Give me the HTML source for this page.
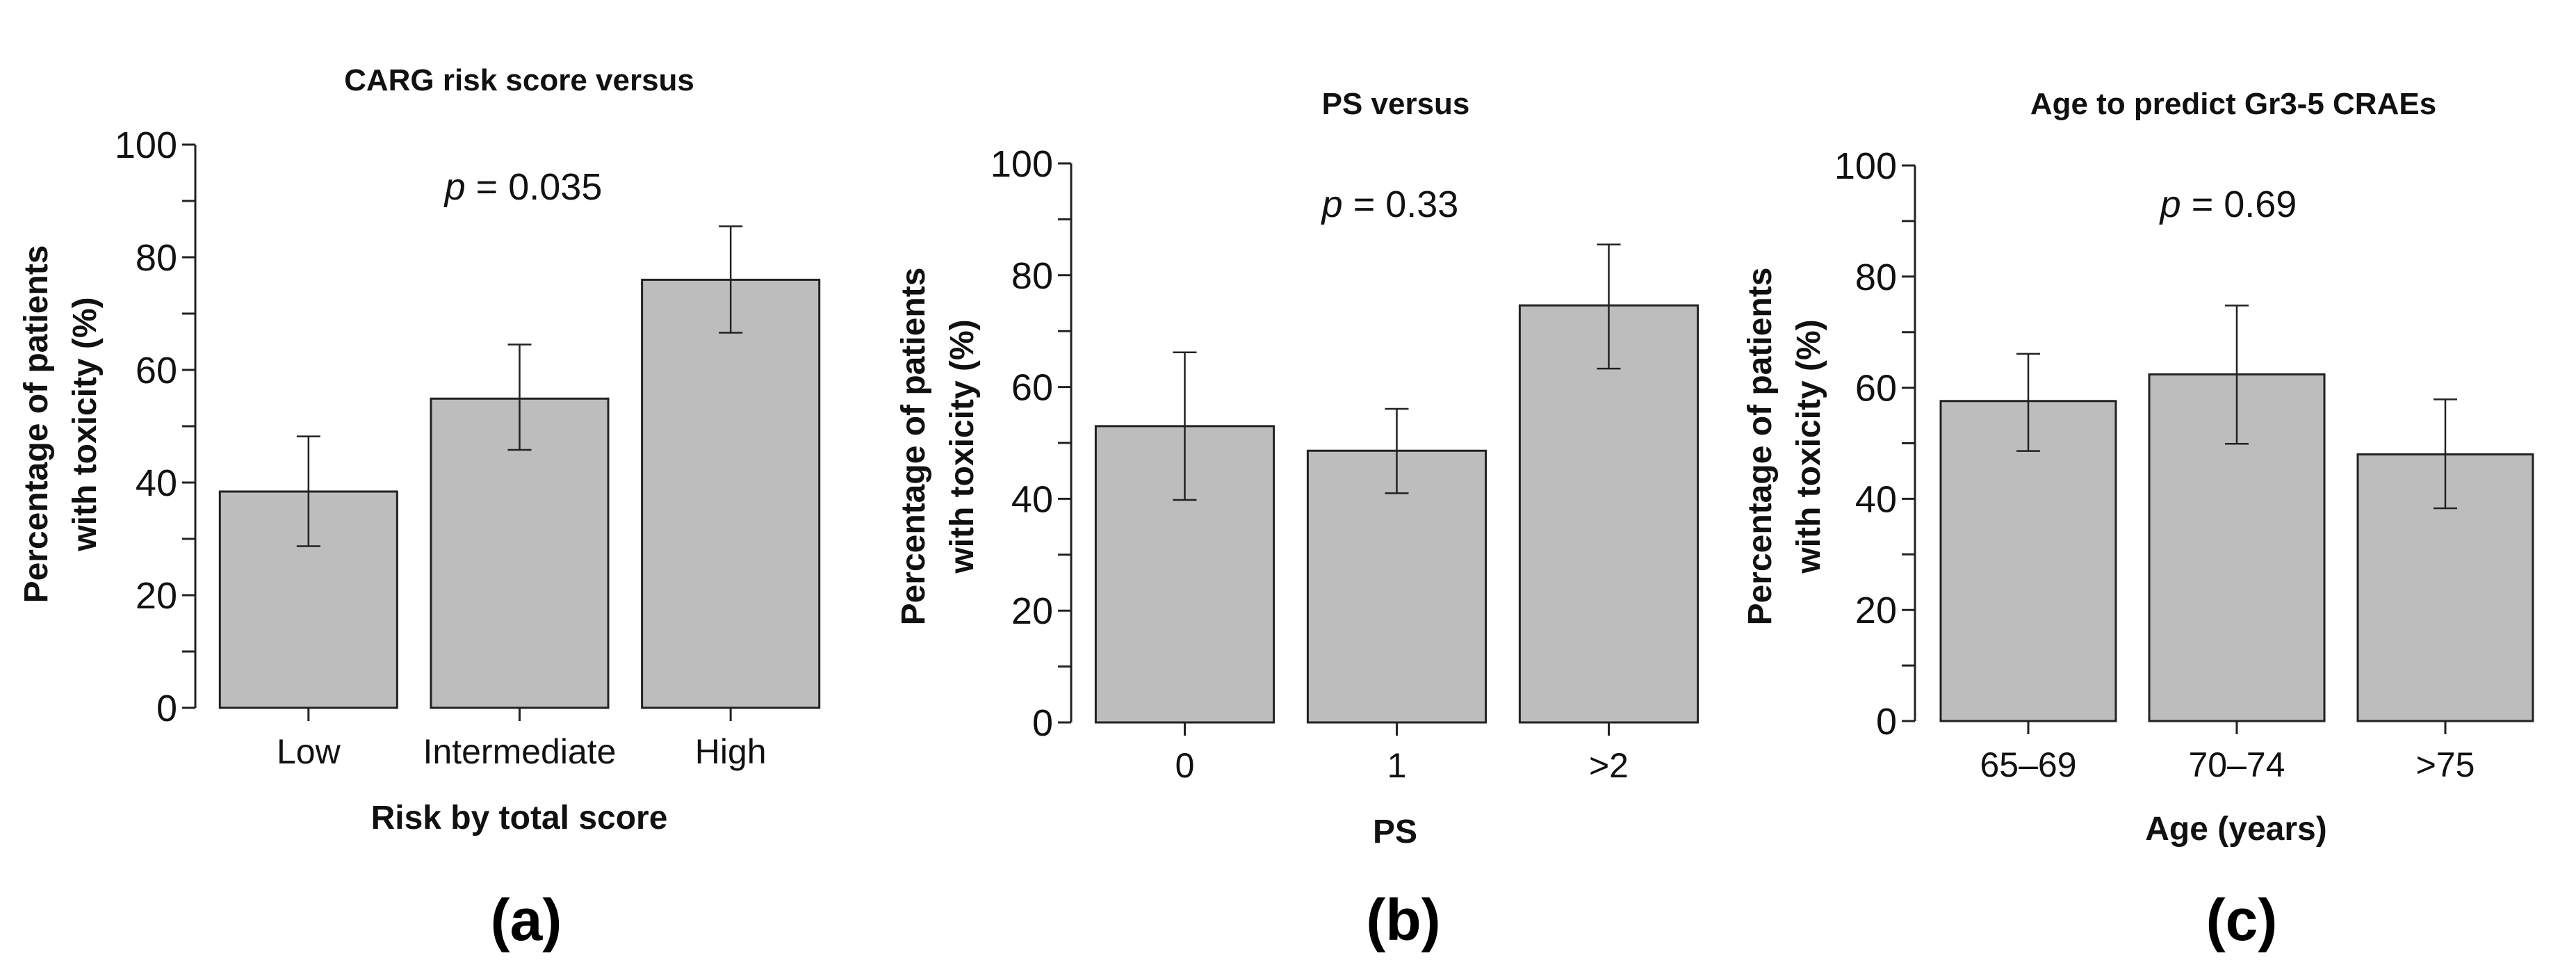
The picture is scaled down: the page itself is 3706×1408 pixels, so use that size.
<!DOCTYPE html>
<html><head><meta charset="utf-8"><style>
html,body{margin:0;padding:0;background:#fff;}
svg{display:block;font-family:"Liberation Sans",Arial,sans-serif;}
</style></head><body>
<svg id="fig" width="3706" height="1408" viewBox="0 0 3706 1408" xmlns="http://www.w3.org/2000/svg"></svg>
<script>
// Panel (a)
const catsA = ["Low", "Intermediate", "High"];
const valsA = [38.4, 54.9, 76.0];
const hiA = [48.2, 64.5, 85.5];
const loA = [28.7, 45.8, 66.6];
// Panel (b)
const catsB = ["0", "1", ">2"];
const valsB = [53.0, 48.6, 74.6];
const hiB = [66.2, 56.1, 85.5];
const loB = [39.8, 41.0, 63.3];
// Panel (c)
const catsC = ["65\u201369", "70\u201374", ">75"];
const valsC = [57.6, 62.4, 48.0];
const hiC = [66.1, 74.8, 57.9];
const loC = [48.6, 49.9, 38.3];
const yTicks = [0, 20, 40, 60, 80, 100];
const yMinorTicks = [10, 30, 50, 70, 90];

const NS = "http://www.w3.org/2000/svg";
const svg = document.getElementById("fig");
function mk(tag, attrs, parent, text) {
  const e = document.createElementNS(NS, tag);
  for (const k in attrs) e.setAttribute(k, attrs[k]);
  if (text !== undefined) e.textContent = text;
  (parent || svg).appendChild(e);
  return e;
}

function panel(cfg) {
  const g = mk("g", {});
  
  
  const y = v => cfg.y0 - (v / 100) * (cfg.y0 - cfg.y100);
  const t = mk("text", {x: cfg.titleX, y: cfg.titleY, "text-anchor": "middle", "font-size": 44, "font-weight": "bold", fill: "#111"}, g, cfg.title);
  
  
  const p = mk("text", {x: cfg.pX, y: cfg.pY, "text-anchor": "middle", "font-size": 54, fill: "#111"}, g);
  
  
  mk("tspan", {"font-style": "italic"}, p, "p");
  mk("tspan", {}, p, " = " + cfg.p);
  const ax = mk("line", {x1: cfg.ax, x2: cfg.ax, y1: y(100), y2: y(0), stroke: "#222", "stroke-width": 3}, g);
  
  
  yTicks.forEach(v => {
    const tk = mk("line", {x1: cfg.ax - 19, x2: cfg.ax, y1: y(v), y2: y(v), stroke: "#222", "stroke-width": 3}, g);
    
    
    const tl = mk("text", {x: cfg.ax - 26, y: y(v) + 19, "text-anchor": "end", "font-size": 54, fill: "#111"}, g, String(v));
    
    
  });
  yMinorTicks.forEach(v => {
    const tk = mk("line", {x1: cfg.ax - 19, x2: cfg.ax, y1: y(v), y2: y(v), stroke: "#222", "stroke-width": 3}, g);
    
    
  });
  const yt = mk("text", {transform: `translate(${cfg.ylx},${cfg.yly}) rotate(-90)`, "text-anchor": "middle", "font-size": 48, "font-weight": "bold", fill: "#111"}, g);
  
  
  mk("tspan", {x: 0, y: 0}, yt, "Percentage of patients");
  mk("tspan", {x: 0, y: cfg.ylGap}, yt, "with toxicity (%)");
  const n = cfg.cats.length;
  const step = (cfg.xEnd - cfg.xStart) / n;
  const bw = step * cfg.barFrac;
  cfg.cats.forEach((c, i) => {
    const cx = cfg.xStart + step * (i + 0.5);
    const b = mk("rect", {x: cx - bw / 2, y: y(cfg.vals[i]), width: bw, height: y(0) - y(cfg.vals[i]), fill: "#bdbdbd", stroke: "#222", "stroke-width": 3}, g);
    
    
    const eb = mk("path", {d: `M${cx},${y(cfg.hi[i])}V${y(cfg.lo[i])}M${cx - 17},${y(cfg.hi[i])}H${cx + 17}M${cx - 17},${y(cfg.lo[i])}H${cx + 17}`, stroke: "#222", "stroke-width": 2.5, fill: "none"}, g);
    
    
    const xt = mk("line", {x1: cx, x2: cx, y1: y(0), y2: y(0) + 19, stroke: "#222", "stroke-width": 3}, g);
    
    
    const xl = mk("text", {x: cx, y: cfg.xlY, "text-anchor": "middle", "font-size": 50, fill: "#111"}, g, c);
    
    
  });
  const xa = mk("text", {x: cfg.xtX, y: cfg.xtY, "text-anchor": "middle", "font-size": 48, "font-weight": "bold", fill: "#111"}, g, cfg.xTitle);
  
  
  const pl = mk("text", {x: cfg.plX, y: 1352, "text-anchor": "middle", "font-size": 84, "font-weight": "bold", fill: "#000"}, g, cfg.letter);
  
  
}

panel({id: "panel-a", title: "CARG risk score versus", titleX: 747, titleY: 130, p: "0.035", pX: 753, pY: 287,
  ax: 281, y0: 1018, y100: 208, ylx: 68, yly: 610, ylGap: 70, xStart: 292, xEnd: 1203, barFrac: 0.84,
  cats: catsA, vals: valsA, hi: hiA, lo: loA, xlY: 1098, xTitle: "Risk by total score", xtX: 747, xtY: 1192, letter: "(a)", plX: 757});
panel({id: "panel-b", title: "PS versus", titleX: 2008, titleY: 164, p: "0.33", pX: 2000, pY: 312,
  ax: 1541, y0: 1039, y100: 235, ylx: 1330, yly: 642, ylGap: 70, xStart: 1552, xEnd: 2467, barFrac: 0.84,
  cats: catsB, vals: valsB, hi: hiB, lo: loB, xlY: 1118, xTitle: "PS", xtX: 2007, xtY: 1212, letter: "(b)", plX: 2019});
panel({id: "panel-c", title: "Age to predict Gr3-5 CRAEs", titleX: 3213, titleY: 164, p: "0.69", pX: 3206, pY: 312,
  ax: 2755, y0: 1037, y100: 238, ylx: 2548, yly: 642, ylGap: 70, xStart: 2768, xEnd: 3668, barFrac: 0.84,
  cats: catsC, vals: valsC, hi: hiC, lo: loC, xlY: 1117, xTitle: "Age (years)", xtX: 3217, xtY: 1208, letter: "(c)", plX: 3225});
</script>
</body></html>
